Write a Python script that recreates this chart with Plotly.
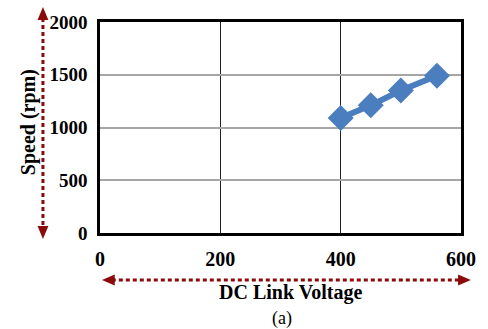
import plotly.graph_objects as go

voltage = [400, 450, 500, 560]
speed = [1090, 1210, 1350, 1490]
x_ticks = [0, 200, 400, 600]
y_ticks = [0, 500, 1000, 1500, 2000]

W, H = 488, 329
L, R, T, B = 100, 467, 22, 233

def px(x):
    return (x - L) / (R - L)

def py(y):
    return (B - y) / (B - T)

FONT = "Liberation Serif"
RED = "#8B0A0A"

fig = go.Figure()
fig.add_trace(go.Scatter(
    x=voltage, y=speed, mode="lines+markers",
    line=dict(color="#4A7EBF", width=6),
    marker=dict(symbol="diamond", size=20, color="#4A7EBF"),
    showlegend=False,
))

shapes = []
# y arrow
shapes.append(dict(type="line", xref="paper", yref="paper",
                   x0=px(42), x1=px(42), y0=py(18), y1=py(228),
                   line=dict(color=RED, width=3, dash="4px,3px")))
shapes.append(dict(type="path", xref="paper", yref="paper",
                   path=f"M {px(42)} {py(7)} L {px(36.5)} {py(20)} L {px(47.5)} {py(20)} Z",
                   fillcolor=RED, line=dict(color=RED, width=0)))
shapes.append(dict(type="path", xref="paper", yref="paper",
                   path=f"M {px(42)} {py(239)} L {px(36.5)} {py(226)} L {px(47.5)} {py(226)} Z",
                   fillcolor=RED, line=dict(color=RED, width=0)))
# x arrow
shapes.append(dict(type="line", xref="paper", yref="paper",
                   x0=px(112), x1=px(466), y0=py(280), y1=py(280),
                   line=dict(color=RED, width=3, dash="4px,3px")))
shapes.append(dict(type="path", xref="paper", yref="paper",
                   path=f"M {px(102)} {py(280)} L {px(115)} {py(274.5)} L {px(115)} {py(285.5)} Z",
                   fillcolor=RED, line=dict(color=RED, width=0)))
shapes.append(dict(type="path", xref="paper", yref="paper",
                   path=f"M {px(477)} {py(280)} L {px(464)} {py(274.5)} L {px(464)} {py(285.5)} Z",
                   fillcolor=RED, line=dict(color=RED, width=0)))

annotations = [
    dict(text="<b>Speed (rpm)</b>", xref="paper", yref="paper",
         x=px(27), y=py(122), textangle=-90, showarrow=False,
         font=dict(family=FONT, size=20, color="black"), xanchor="center", yanchor="middle"),
    dict(text="<b>DC Link Voltage</b>", xref="paper", yref="paper",
         x=px(294), y=py(292), showarrow=False,
         font=dict(family=FONT, size=20, color="black"), xanchor="center", yanchor="middle"),
    dict(text="(a)", xref="paper", yref="paper",
         x=px(285), y=py(318), showarrow=False,
         font=dict(family=FONT, size=18, color="black"), xanchor="center", yanchor="middle"),
]

fig.update_layout(
    width=W, height=H,
    margin=dict(l=L, r=W - R, t=T, b=H - B),
    paper_bgcolor="white", plot_bgcolor="white",
    shapes=shapes, annotations=annotations,
    xaxis=dict(range=[0, 600], tickvals=x_ticks, ticktext=[f"<b>{v}</b>" for v in x_ticks],
               showgrid=True, gridcolor="#222222", gridwidth=1,
               showline=True, linecolor="black", linewidth=2.5, mirror=True,
               zeroline=False, ticks="", ticklabelstandoff=6,
               tickfont=dict(family=FONT, size=20, color="black")),
    yaxis=dict(range=[0, 2000], tickvals=y_ticks, ticktext=[f"<b>{v}</b>" for v in y_ticks],
               showgrid=True, gridcolor="#A6A6A6", gridwidth=1.5,
               showline=True, linecolor="black", linewidth=2.5, mirror=True,
               zeroline=False, ticks="", ticklabelstandoff=6,
               tickfont=dict(family=FONT, size=19, color="black")),
)

fig.write_html("out.html", config={"displayModeBar": False},
               post_script="document.body.style.margin='0';document.body.style.overflow='hidden';")
